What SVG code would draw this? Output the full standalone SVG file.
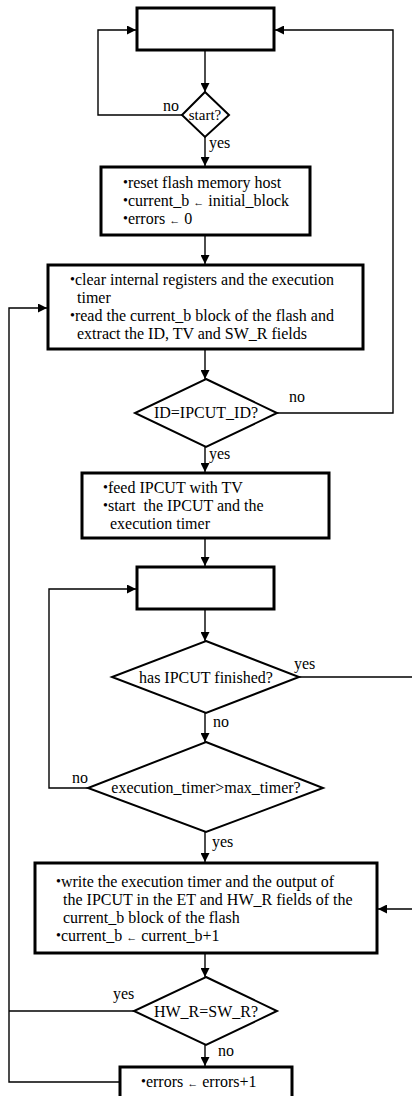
<svg xmlns="http://www.w3.org/2000/svg" width="412" height="1096" viewBox="0 0 412 1096">
<style>
text{font-family:"Liberation Serif","Times New Roman",serif;font-size:16px;fill:#000}
.c{text-anchor:middle}
.box{fill:#fff;stroke:#000;stroke-width:3}
.dia{fill:#fff;stroke:#000;stroke-width:2}
.ln{fill:none;stroke:#000;stroke-width:1.4}
.b{font-size:14px;baseline-shift:1px}
.ar{font-size:11px}
</style>
<defs>
<marker id="ah" viewBox="0 0 10 10" refX="10" refY="5" markerWidth="9" markerHeight="9" markerUnits="userSpaceOnUse" orient="auto">
<path d="M0,0 L10,5 L0,10 z" fill="#000"/>
</marker>
</defs>
<g id="connectors">
<path class="ln" d="M205,51 V92" marker-end="url(#ah)"/>
<path class="ln" d="M182,115 H98 V30 H136" marker-end="url(#ah)"/>
<path class="ln" d="M205,137 V166" marker-end="url(#ah)"/>
<path class="ln" d="M205,236 V264" marker-end="url(#ah)"/>
<path class="ln" d="M205,350 V379" marker-end="url(#ah)"/>
<path class="ln" d="M277,413 H393 V30 H275" marker-end="url(#ah)"/>
<path class="ln" d="M205,447 V472" marker-end="url(#ah)"/>
<path class="ln" d="M205,539 V566" marker-end="url(#ah)"/>
<path class="ln" d="M205,610 V641" marker-end="url(#ah)"/>
<path class="ln" d="M299,677 H415 V909 H378" marker-end="url(#ah)"/>
<path class="ln" d="M205,713 V742" marker-end="url(#ah)"/>
<path class="ln" d="M88,788 H49 V589 H136" marker-end="url(#ah)"/>
<path class="ln" d="M205,832 V862" marker-end="url(#ah)"/>
<path class="ln" d="M205,954 V977" marker-end="url(#ah)"/>
<path class="ln" d="M134,1011 H9"/>
<path class="ln" d="M205,1045 V1066" marker-end="url(#ah)"/>
<path class="ln" d="M119,1082 H9 V308 H47" marker-end="url(#ah)"/>
</g>
<g id="n_start_box"><rect class="box" x="137" y="8" width="137" height="42"/></g>
<g id="n_start_q">
<polygon class="dia" points="205,92 229,115 205,137 182,115"/>
<text class="c" x="205" y="120" style="font-size:15px">start?</text>
<text x="163" y="111">no</text>
<text x="209" y="148">yes</text>
</g>
<g id="n_reset">
<rect class="box" x="101" y="167" width="209" height="68"/>
<text x="123" y="188"><tspan class="b">•</tspan>reset flash memory host</text>
<text x="123" y="206"><tspan class="b">•</tspan>current_b <tspan class="ar">←</tspan> initial_block</text>
<text x="123" y="224"><tspan class="b">•</tspan>errors <tspan class="ar">←</tspan> 0</text>
</g>
<g id="n_clear">
<rect class="box" x="48" y="265" width="315" height="84"/>
<text x="70" y="285"><tspan class="b">•</tspan>clear internal registers and the execution</text>
<text x="77" y="303">timer</text>
<text x="70" y="321"><tspan class="b">•</tspan>read the current_b block of the flash and</text>
<text x="77" y="339">extract the ID, TV and SW_R fields</text>
</g>
<g id="n_id_q">
<polygon class="dia" points="206,379 277,413 206,447 135,413"/>
<text class="c" x="206" y="418">ID=IPCUT_ID?</text>
<text x="289" y="402">no</text>
<text x="209" y="459">yes</text>
</g>
<g id="n_feed">
<rect class="box" x="82" y="473" width="247" height="65"/>
<text x="103" y="493"><tspan class="b">•</tspan>feed IPCUT with TV</text>
<text x="103" y="511"><tspan class="b">•</tspan>start&#160; the IPCUT and the</text>
<text x="110" y="529">execution timer</text>
</g>
<g id="n_wait_box"><rect class="box" x="137" y="567" width="137" height="42"/></g>
<g id="n_fin_q">
<polygon class="dia" points="206,641 299,677 206,713 112,677"/>
<text class="c" x="206" y="683">has IPCUT finished?</text>
<text x="294" y="669">yes</text>
<text x="213" y="727">no</text>
</g>
<g id="n_timer_q">
<polygon class="dia" points="206,742 323,788 206,832 88,788"/>
<text class="c" x="206" y="793">execution_timer&gt;max_timer?</text>
<text x="72" y="783">no</text>
<text x="212" y="847">yes</text>
</g>
<g id="n_write">
<rect class="box" x="35" y="863" width="342" height="90"/>
<text x="56" y="887"><tspan class="b">•</tspan>write the execution timer and the output of</text>
<text x="63" y="905">the IPCUT in the ET and HW_R fields of the</text>
<text x="63" y="923">current_b block of the flash</text>
<text x="56" y="941"><tspan class="b">•</tspan>current_b <tspan class="ar">←</tspan> current_b+1</text>
</g>
<g id="n_hw_q">
<polygon class="dia" points="206,977 277,1011 206,1045 134,1011"/>
<text class="c" x="206" y="1017">HW_R=SW_R?</text>
<text x="113" y="999">yes</text>
<text x="218" y="1056">no</text>
</g>
<g id="n_errors">
<rect class="box" x="120" y="1067" width="172" height="40"/>
<text x="141" y="1087"><tspan class="b">•</tspan>errors <tspan class="ar">←</tspan> errors+1</text>
</g>
</svg>
